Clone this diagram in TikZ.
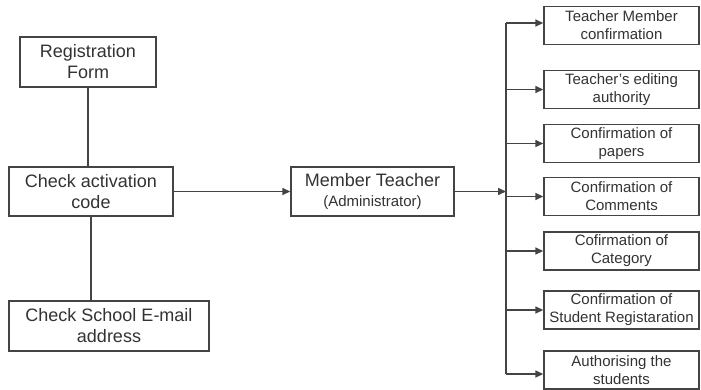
\documentclass[tikz,border=0pt]{standalone}
\usepackage{fontspec}
\setmainfont{Liberation Sans}
\usetikzlibrary{arrows.meta}
\definecolor{ink}{HTML}{333333}
\definecolor{wire}{HTML}{444444}
\begin{document}
\begin{tikzpicture}[x=1pt,y=-1pt,
  box/.style={draw=wire,line width=1.4pt,align=center,text=ink,inner sep=0pt},
  leftbox/.style={box,font=\fontsize{18}{21}\selectfont},
  rightbox/.style={box,font=\fontsize{15}{18}\selectfont,minimum width=155pt,minimum height=38pt},
  link/.style={draw=wire,line width=1.5pt},
  arr/.style={link,-{Triangle[length=8pt,width=7pt]}}]
\useasboundingbox[fill=white] (0,0) rectangle (701,389);

% left column
\node[leftbox,minimum width=136pt,minimum height=50pt] (reg) at (88,62) {Registration\\Form};
\node[leftbox,minimum width=164pt,minimum height=49pt] (act) at (91,191.5) {Check activation\\code};
\node[leftbox,minimum width=200pt,minimum height=50pt] (mail) at (109,326) {Check School E-mail\\address};

% central node
\node[leftbox,minimum width=163pt,minimum height=49pt] (mem) at (372.5,191.5)
  {Member Teacher\\[-1pt]{\fontsize{15}{18}\selectfont(Administrator)}};

% right column
\node[rightbox] (b1) at (621.5,25.5) {Teacher Member\\confirmation};
\node[rightbox] (b2) at (621.5,89.5) {Teacher's editing\\authority};
\node[rightbox] (b3) at (621.5,143.5) {Confirmation of\\papers};
\node[rightbox] (b4) at (621.5,196.5) {Confirmation of\\Comments};
\node[rightbox] (b5) at (621.5,251) {Cofirmation of\\Category};
\node[rightbox] (b6) at (621.5,310) {Confirmation of\\Student Registaration};
\node[rightbox] (b7) at (621.5,370) {Authorising the\\students};

% distribution bus
\coordinate (bus) at (506,191.5);
\coordinate (bustop) at (506,23);
\coordinate (busbot) at (506,374);

% connectors
\draw[link] (reg.south) -- (reg.south |- act.north);
\draw[link] (act.south) -- (act.south |- mail.north);
\draw[arr] (act.east) -- (mem.west);
\draw[arr] (mem.east) -- (bus);
\draw[link] (bustop) -- (busbot);
\draw[arr] (bustop) -- (bustop -| b1.west);
\draw[arr] (bus |- b2.west) -- (b2.west);
\draw[arr] (bus |- b3.west) -- (b3.west);
\draw[arr] (bus |- b4.west) -- (b4.west);
\draw[arr] (bus |- b5.west) -- (b5.west);
\draw[arr] (bus |- b6.west) -- (b6.west);
\draw[arr] (busbot) -- (busbot -| b7.west);
\end{tikzpicture}
\end{document}
